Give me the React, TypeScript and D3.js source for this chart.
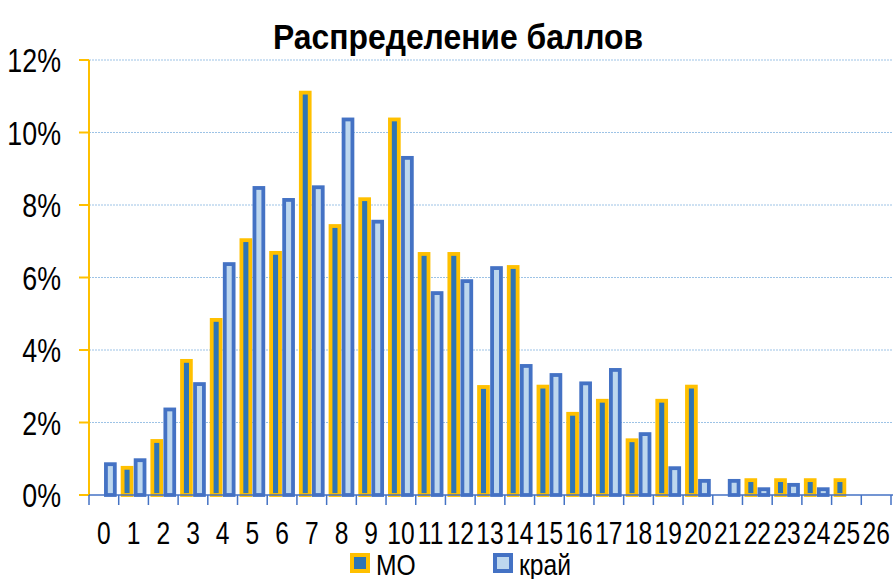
import * as d3 from "d3";
import React, { RefObject, useEffect, useRef } from "react";

const categories = Array.from({ length: 27 }, (_, i) => String(i));
const seriesNames = ["МО", "край"];
// shares in percent, null = no bar
const moValues: (number | null)[] = [
  null, 0.75, 1.49, 3.7, 4.83, 7.03, 6.68, 11.1, 7.42, 8.16, 10.36, 6.65, 6.65,
  2.98, 6.29, 2.99, 2.24, 2.6, 1.51, 2.6, 2.99, null, 0.41, 0.41, 0.41, 0.41, null,
];
const kraiValues: (number | null)[] = [
  0.85, 0.96, 2.36, 3.06, 6.37, 8.47, 8.14, 8.49, 10.36, 7.54, 9.3, 5.57, 5.9,
  6.26, 3.56, 3.31, 3.08, 3.45, 1.68, 0.74, 0.39, 0.39, 0.16, 0.28, 0.16, null, null,
];
const yTicks = [0, 2, 4, 6, 8, 10, 12];

const font = "'Liberation Sans', Arial, sans-serif";

const App = () => {
  const d3Ref: RefObject<HTMLDivElement> = useRef(null);

  useEffect(() => {
    const width = 894;
    const height = 579;
    const left = 89;
    const right = 891;
    const top = 60;
    const bottom = 495;

    d3.select(d3Ref.current).selectAll("*").remove();
    const svg = d3
      .select(d3Ref.current)
      .append("svg")
      .attr("width", width)
      .attr("height", height)
      .style("position", "absolute")
      .style("left", 0)
      .style("top", 0)
      .style("background", "#fff");

    // condensed text: scaled horizontally, like the narrow office font
    const label = (
      parent: d3.Selection<any, any, any, any>,
      x: number,
      y: number,
      txt: string,
      size: number,
      anchor: string,
      sx = 0.8,
      weight = "normal"
    ) =>
      parent
        .append("g")
        .attr("transform", `translate(${x},${y}) scale(${sx},1)`)
        .append("text")
        .attr("text-anchor", anchor)
        .style("font-family", font)
        .style("font-size", size + "px")
        .style("font-weight", weight)
        .text(txt);

    const x0 = d3.scaleBand().domain(categories).range([left, right]);
    const bw = x0.bandwidth();
    const x1 = d3
      .scaleBand()
      .domain(seriesNames)
      .range([3.9, bw - 3.9])
      .paddingInner(0.32);
    const y = d3.scaleLinear().domain([0, 12]).range([bottom, top]);

    // title
    label(svg, 458, 49, "Распределение баллов", 36, "middle", 0.885, "bold");

    // grid
    svg
      .append("g")
      .selectAll("line")
      .data(yTicks.filter((t) => t > 0))
      .enter()
      .append("line")
      .attr("x1", left)
      .attr("x2", 893)
      .attr("y1", (d) => y(d))
      .attr("y2", (d) => y(d))
      .attr("stroke", "#9DC3E6")
      .attr("stroke-width", 1)
      .attr("stroke-dasharray", "2,1");

    // bars
    const series = [
      { name: "МО", values: moValues, fill: "#2E75B6", stroke: "#FFC000" },
      { name: "край", values: kraiValues, fill: "#BDD7EE", stroke: "#4472C4" },
    ];
    series.forEach((s) => {
      svg
        .append("g")
        .selectAll("rect")
        .data(s.values.map((v, i) => ({ cat: categories[i], v })).filter((d) => d.v !== null))
        .enter()
        .append("rect")
        .attr("x", (d) => (x0(d.cat) as number) + (x1(s.name) as number))
        .attr("width", x1.bandwidth())
        .attr("y", (d) => y(d.v as number))
        .attr("height", (d) => y(0) - y(d.v as number))
        .attr("fill", s.fill)
        .attr("stroke", s.stroke)
        .attr("stroke-width", 3.8);
    });

    // y axis
    const yAxis = svg.append("g");
    yAxis
      .append("line")
      .attr("x1", left)
      .attr("x2", left)
      .attr("y1", top)
      .attr("y2", bottom)
      .attr("stroke", "#FFC000")
      .attr("stroke-width", 2);
    yAxis
      .selectAll("line.tick")
      .data(yTicks)
      .enter()
      .append("line")
      .attr("class", "tick")
      .attr("x1", 79)
      .attr("x2", left)
      .attr("y1", (d) => y(d))
      .attr("y2", (d) => y(d))
      .attr("stroke", "#FFC000")
      .attr("stroke-width", 2);
    yTicks.forEach((t) => {
      label(yAxis, 61, y(t) + 12, t + "%", 33.5, "end", 0.8);
    });

    // x axis
    const xAxis = svg.append("g");
    xAxis
      .append("line")
      .attr("x1", left)
      .attr("x2", 893)
      .attr("y1", bottom)
      .attr("y2", bottom)
      .attr("stroke", "#4472C4")
      .attr("stroke-width", 1.5);
    xAxis
      .selectAll("line.tick")
      .data(categories.concat(["end"]))
      .enter()
      .append("line")
      .attr("class", "tick")
      .attr("x1", (d) => (d === "end" ? right : (x0(d) as number)))
      .attr("x2", (d) => (d === "end" ? right : (x0(d) as number)))
      .attr("y1", bottom)
      .attr("y2", bottom + 10)
      .attr("stroke", "#4472C4")
      .attr("stroke-width", 1.5);
    categories.forEach((c) => {
      label(xAxis, (x0(c) as number) + bw / 2, 544, c, 31.5, "middle", 0.78);
    });

    // legend
    const legend = [
      { name: "МО", x: 352, fill: "#2E75B6", stroke: "#FFC000" },
      { name: "край", x: 495, fill: "#BDD7EE", stroke: "#4472C4" },
    ];
    const lg = svg.append("g");
    legend.forEach((l) => {
      lg.append("rect")
        .attr("x", l.x)
        .attr("y", 555)
        .attr("width", 16)
        .attr("height", 16)
        .attr("fill", l.fill)
        .attr("stroke", l.stroke)
        .attr("stroke-width", 4);
      label(lg, l.x + 24, 575, l.name, 29, "start", 0.85);
    });
  }, [d3Ref]);

  return <div ref={d3Ref} />;
};

export default App;
